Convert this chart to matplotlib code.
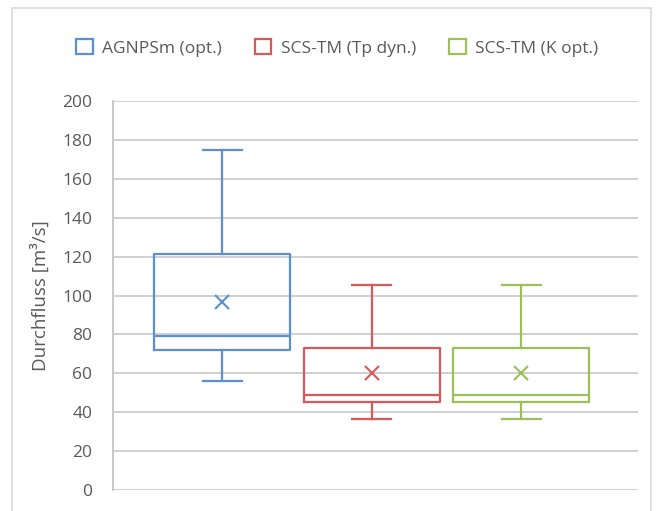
import matplotlib
matplotlib.use("Agg")
import matplotlib.pyplot as plt
from matplotlib.patches import Patch, Rectangle

# Series and their summary statistics (m³/s)
series = ["AGNPSm (opt.)", "SCS-TM (Tp dyn.)", "SCS-TM (K opt.)"]
colors = ["#5B8ED4", "#D9595B", "#9BBF59"]
whisker_low = [56, 36.5, 36.5]
q1 = [72, 45, 45]
median = [79, 49, 49]
q3 = [121.5, 73, 73]
whisker_high = [175, 105.5, 105.5]
mean = [96.5, 60, 60]
yticks = [0, 20, 40, 60, 80, 100, 120, 140, 160, 180, 200]

plt.rcParams["font.family"] = ["Open Sans", "DejaVu Sans"]
text_color = "#595959"

fig = plt.figure(figsize=(6.56, 5.11), dpi=100)
ax = fig.add_axes([113 / 656, 21 / 511, 525 / 656, 389 / 511])

positions = [0, 1, 2]
for i, pos in enumerate(positions):
    stats = [{
        "whislo": whisker_low[i], "q1": q1[i], "med": median[i],
        "q3": q3[i], "whishi": whisker_high[i], "mean": mean[i],
        "fliers": [], "label": series[i],
    }]
    c = colors[i]
    ax.bxp(stats, positions=[pos], widths=0.91, capwidths=0.26,
           showmeans=True, patch_artist=False,
           boxprops=dict(color=c, linewidth=1.6),
           medianprops=dict(color=c, linewidth=1.6),
           whiskerprops=dict(color=c, linewidth=1.6),
           capprops=dict(color=c, linewidth=1.6),
           meanprops=dict(marker="x", markeredgecolor=c, markersize=10,
                          markeredgewidth=1.5, linestyle="none"),
           zorder=3)

ax.set_xlim(-0.73, 2.78)
ax.set_ylim(0, 200)
ax.set_yticks(yticks)
ax.set_xticks([])
ax.yaxis.grid(True, color="#D0D0D0", linewidth=1.4)
ax.set_axisbelow(True)
for s in ["top", "right", "bottom"]:
    ax.spines[s].set_visible(False)
ax.spines["left"].set_color("#C8C8C8")
ax.spines["left"].set_linewidth(1.4)
ax.tick_params(axis="y", length=0, pad=15, labelsize=12.5, labelcolor=text_color)
ax.set_ylabel("Durchfluss [m³/s]", fontsize=13.5, color=text_color, labelpad=9)

handles = [Patch(facecolor="white", edgecolor=c, linewidth=1.6) for c in colors]
fig.legend(handles, series, loc="center", bbox_to_anchor=(0.514, 1 - 48 / 511),
           ncol=3, frameon=False, fontsize=12.5, handlelength=0.95,
           handleheight=0.95, handletextpad=0.55, columnspacing=1.9,
           labelcolor=text_color)

# Light chart-area frame
fig.patches.append(Rectangle((12 / 656, -0.05), 639 / 656, 1.05 - 8 / 511,
                             transform=fig.transFigure, fill=False,
                             edgecolor="#D9D9D9", linewidth=1.2))

fig.savefig("out.png", dpi=100)
